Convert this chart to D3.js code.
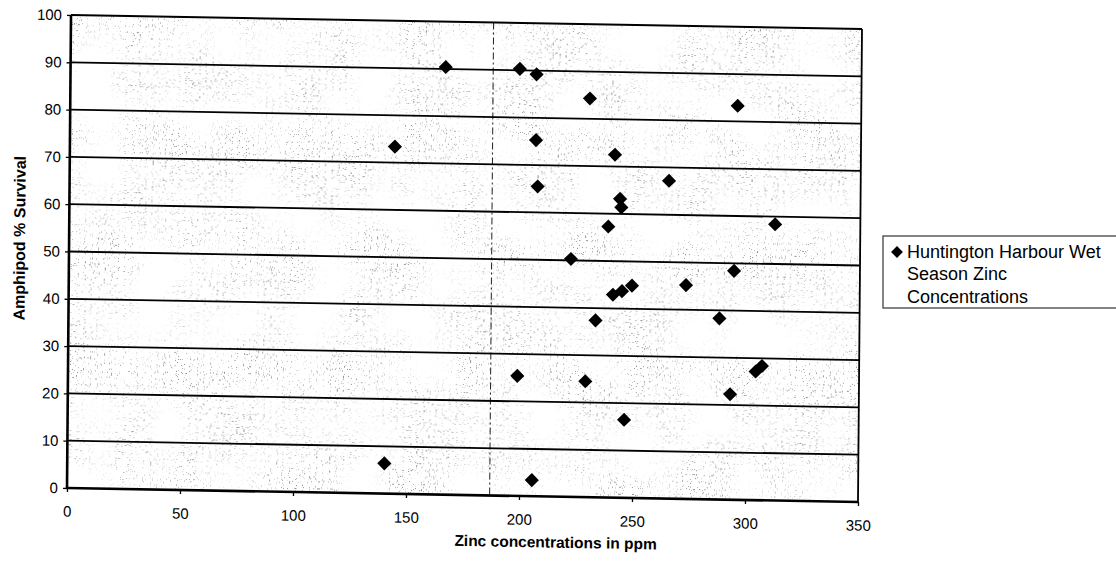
<!DOCTYPE html>
<html>
<head>
<meta charset="utf-8">
<script src="https://cdn.jsdelivr.net/npm/d3@7"></script>
<style>
  html, body { margin: 0; padding: 0; background: #fff; }
  svg { display: block; }
  text { font-family: "Liberation Sans", Arial, sans-serif; fill: #000; }
</style>
</head>
<body>
<svg id="chart" width="1116" height="562"></svg>
<script>
// ---- data ----
const zinc = [166, 198.8, 206.2, 229.9, 143.8, 206.2, 241.2, 207.1, 243.6, 244.2,
              295.3, 265.2, 238.5, 222.1, 240.8, 244.8, 249.2, 233.2, 312.3, 294.3,
              273.1, 288.0, 198.8, 228.9, 246.2, 140.3, 205.6, 304.2, 307.0, 293.0];
const survival = [90.4, 90.3, 89.2, 84.3, 73.4, 75.3, 72.5, 65.5, 63.2, 61.4,
                  83.3, 67.2, 57.3, 50.3, 42.9, 43.7, 44.9, 37.4, 58.4, 48.4,
                  45.2, 38.3, 25.4, 24.5, 16.5, 6.4, 3.4, 27.2, 28.4, 22.3];
const xTicks = [0, 50, 100, 150, 200, 250, 300, 350];
const yTicks = [0, 10, 20, 30, 40, 50, 60, 70, 80, 90, 100];
const seriesName = ["Huntington Harbour Wet", "Season Zinc", "Concentrations"];
const xTitle = "Zinc concentrations in ppm";
const yTitle = "Amphipod % Survival";
const foldLine = [187]; // scan fold line position (x units)

// ---- layout ----
const W = 791, H = 473;
const svg = d3.select("#chart");

// scan speckle texture: fine dots modulated by coarse clusters
const defs = svg.append("defs");
const f = defs.append("filter").attr("id", "spk")
  .attr("x", 0).attr("y", 0).attr("width", 1).attr("height", 1);
f.append("feTurbulence").attr("type", "fractalNoise").attr("baseFrequency", 0.85)
  .attr("numOctaves", 1).attr("seed", 4).attr("result", "fine");
f.append("feColorMatrix").attr("in", "fine").attr("type", "matrix")
  .attr("values", "0 0 0 0 0.2  0 0 0 0 0.2  0 0 0 0 0.2  -14 0 0 0 5.0")
  .attr("result", "dots");
f.append("feTurbulence").attr("type", "fractalNoise").attr("baseFrequency", 0.018)
  .attr("numOctaves", 2).attr("seed", 11).attr("result", "coarse");
f.append("feColorMatrix").attr("in", "coarse").attr("type", "matrix")
  .attr("values", "0 0 0 0 1  0 0 0 0 1  0 0 0 0 1  0 0 0 3 -0.9")
  .attr("result", "mask");
f.append("feComposite").attr("in", "dots").attr("in2", "mask")
  .attr("operator", "in");

// slight skew/rotation as in the scanned original
const b = 14 / 791, c = -4 / 473;
const g = svg.append("g").attr("transform", `matrix(1,${b},${c},1,71,15)`);

const x = d3.scaleLinear().domain([0, 350]).range([0, W]);
const y = d3.scaleLinear().domain([0, 100]).range([H, 0]);

// speckled background
g.append("rect").attr("x", 0).attr("y", 0).attr("width", W).attr("height", H)
  .attr("fill", "#fff");
g.append("rect").attr("x", 0).attr("y", 0).attr("width", W).attr("height", H)
  .attr("filter", "url(#spk)").attr("opacity", 0.85);

// fold line
g.selectAll(".fold").data(foldLine).enter().append("line")
  .attr("x1", d => x(d)).attr("x2", d => x(d)).attr("y1", 0).attr("y2", H)
  .attr("stroke", "#222").attr("stroke-width", 1).attr("stroke-dasharray", "7,3,2,3");

// gridlines
g.selectAll(".grid").data(yTicks.filter(d => d > 0)).enter().append("line")
  .attr("x1", 0).attr("x2", W).attr("y1", d => y(d)).attr("y2", d => y(d))
  .attr("stroke", "#000").attr("stroke-width", d => d === 100 ? 2.2 : 1.8);

// right border
g.append("line").attr("x1", W).attr("x2", W).attr("y1", 0).attr("y2", H)
  .attr("stroke", "#000").attr("stroke-width", 1.8);

// axes
const xAxis = d3.axisBottom(x).tickValues(xTicks).tickSize(4).tickPadding(14)
  .tickFormat(d3.format("d"));
const gx = g.append("g").attr("transform", `translate(0,${H})`).call(xAxis);
gx.select(".domain").remove();
gx.selectAll(".tick line").attr("stroke", "#000").attr("stroke-width", 1.3);
gx.selectAll(".tick text").style("font-size", "15px").attr("fill", "#000")
  .style("font-family", "'Liberation Sans', Arial, sans-serif");

const yAxis = d3.axisLeft(y).tickValues(yTicks).tickSize(4).tickPadding(5)
  .tickFormat(d3.format("d"));
const gy = g.append("g").call(yAxis);
gy.select(".domain").remove();
gy.selectAll(".tick line").attr("stroke", "#000").attr("stroke-width", 1.3);
gy.selectAll(".tick text").style("font-size", "15px").attr("fill", "#000")
  .style("font-family", "'Liberation Sans', Arial, sans-serif");

g.append("line").attr("x1", 0).attr("x2", W).attr("y1", H).attr("y2", H)
  .attr("stroke", "#000").attr("stroke-width", 2.6);
g.append("line").attr("x1", 0).attr("x2", 0).attr("y1", 0).attr("y2", H)
  .attr("stroke", "#000").attr("stroke-width", 2.6);

// points
const pts = zinc.map((v, i) => ({ zx: v, sy: survival[i] }));
const diamond = d3.symbol().type(d3.symbolSquare).size(100);
g.selectAll(".pt").data(pts).enter().append("path")
  .attr("d", diamond)
  .attr("transform", d => `translate(${x(d.zx)},${y(d.sy)}) rotate(45)`)
  .attr("fill", "#000");

// axis titles
g.append("text").attr("x", 489).attr("y", 524).attr("text-anchor", "middle")
  .style("font-size", "15.5px").style("font-weight", "bold").text(xTitle);
g.append("text").attr("transform", "translate(-44,224) rotate(-90)")
  .attr("text-anchor", "middle")
  .style("font-size", "16px").style("font-weight", "bold").text(yTitle);

// legend
const lg = svg.append("g");
lg.append("rect").attr("x", 883).attr("y", 236).attr("width", 245).attr("height", 72)
  .attr("fill", "#fff").attr("stroke", "#333").attr("stroke-width", 1.2);
lg.append("path").attr("d", d3.symbol().type(d3.symbolSquare).size(70))
  .attr("transform", "translate(897,252) rotate(45)").attr("fill", "#000");
lg.selectAll(".lt").data(seriesName).enter().append("text")
  .attr("x", 907).attr("y", (d, i) => 258 + i * 22.3)
  .style("font-size", "18px").text(d => d);
</script>
</body>
</html>
